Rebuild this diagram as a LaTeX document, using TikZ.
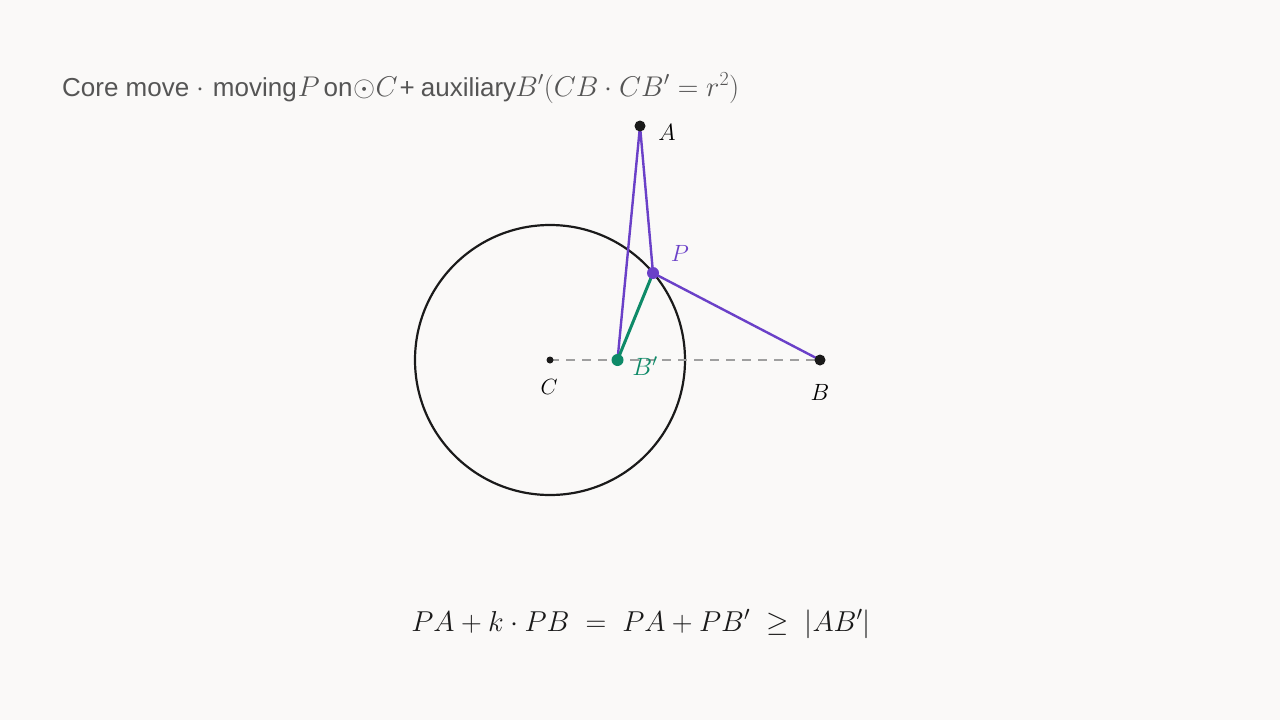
\RequirePackage{fix-cm}
\documentclass[tikz,border=0pt]{standalone}
\usepackage{fontspec}
\usepackage{amssymb}
\newfontfamily\titlefont{Liberation Sans}
\definecolor{bgc}{HTML}{FAF9F8}
\definecolor{pur}{HTML}{6A40C8}
\definecolor{grn}{HTML}{0E8A68}
\definecolor{ink}{HTML}{1A1A1A}
\definecolor{ttl}{HTML}{555555}
\newcommand{\tm}[1]{{\fontsize{28.5}{32}\selectfont$#1$}}
\tikzset{
  dotk/.style={circle,fill=ink,inner sep=0pt,minimum size=11pt},
  lbl/.style={inner sep=0pt,font=\fontsize{23.5}{26}\selectfont},
  seg/.style={line width=2.4pt,pur},
}
\begin{document}
\begin{tikzpicture}[x=1pt,y=-1pt]
\fill[bgc] (0,0) rectangle (1280,720);
\useasboundingbox (0,0) rectangle (1280,720);
% title
\node[anchor=west,inner sep=0pt,text=ttl,font=\titlefont\fontsize{26}{30}\selectfont] (title) at (62,88)
 {Core move\hspace{7pt}\tm{\cdot}\,\,moving\hspace{1pt}\tm{P}\hspace{4pt}on\hspace{1pt}\tm{\odot C}\hspace{2pt}+\hspace{6pt}auxiliary\hspace{-1pt}\tm{B'(CB\cdot CB'=r^2)}};
% geometry
\coordinate (C) at (550,360);
\coordinate (B) at (820,360);
\coordinate (Bp) at (617.5,360);
\coordinate (A) at (640,126);
\coordinate (P) at (653,273);
\draw[ink,line width=2.2pt] (C) circle[radius=135];
\draw[gray!75,line width=1.6pt,dash pattern=on 9pt off 7pt] (C) -- (B);
\draw[seg] (A) -- (P) -- (B);
\draw[seg] (A) -- (Bp);
\draw[grn,line width=3pt] (Bp) -- (P);
\node[circle,fill=ink,inner sep=0pt,minimum size=7pt] (Cd) at (C) {};
\node[dotk] (Ad) at (A) {};
\node[dotk] (Bd) at (B) {};
\node[circle,fill=pur,inner sep=0pt,minimum size=12pt] (Pd) at (P) {};
\node[circle,fill=grn,inner sep=0pt,minimum size=12pt] (Bpd) at (Bp) {};
% labels
\node[lbl] (lA) at (667,132) {$A$};
\node[lbl] (lB) at (820,392) {$B$};
\node[lbl,font=\fontsize{22}{26}\selectfont] (lC) at (549,387) {$C$};
\node[lbl,text=pur] (lP) at (680,253) {$P$};
\node[lbl,text=grn,font=\fontsize{25}{28}\selectfont] (lBp) at (645,366) {$B'$};
% formula
\node[inner sep=0pt,text=ink,font=\fontsize{28.8}{34}\selectfont] (f) at (641,624)
 {$PA+k\cdot PB\;=\;PA+PB'\;\geq\;|AB'|$};
\end{tikzpicture}
\end{document}
